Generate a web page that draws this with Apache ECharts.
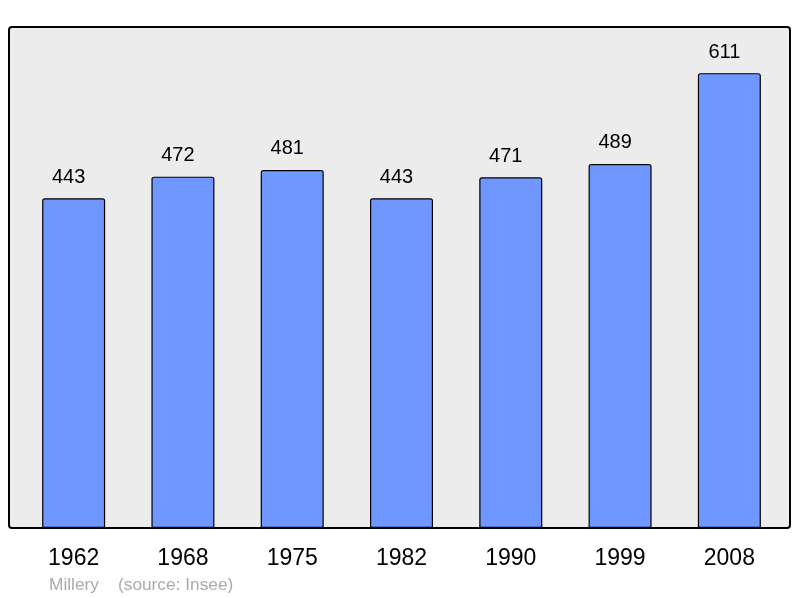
<!DOCTYPE html>
<html><head><meta charset="utf-8">
<script src="https://cdn.jsdelivr.net/npm/echarts@6/dist/echarts.min.js"></script>
<style>html,body{margin:0;padding:0;background:#fff}#c{width:800px;height:598px}</style>
</head><body><div id="c"></div>
<script>
var years = ['1962','1968','1975','1982','1990','1999','2008'];
var population = [443, 472, 481, 443, 471, 489, 611];
var placeName = 'Millery';
var sourceText = '(source: Insee)';

var chart = echarts.init(document.getElementById('c'), null, {renderer:'canvas'});
chart.setOption({
  animation: false,
  backgroundColor: '#ffffff',
  grid: {left: 19, right: 16, top: 27, bottom: 70},
  xAxis: {
    type: 'category', data: years,
    axisLine: {show: false}, axisTick: {show: false},
    axisLabel: {color: '#000', fontFamily: 'Liberation Sans', fontSize: 23, margin: 19}
  },
  yAxis: {type: 'value', min: 0, max: 673, show: false, splitLine: {show: false}},
  graphic: [{
    type: 'rect', z: -10, silent: true,
    shape: {x: 9, y: 27, width: 781, height: 501, r: 3},
    style: {fill: '#ececec', stroke: '#000', lineWidth: 2}
  }, {
    type: 'text', left: 49, top: 577,
    style: {text: placeName, fill: '#aaaaaa', font: '17.3px "Liberation Sans"'}
  }, {
    type: 'text', left: 118, top: 577,
    style: {text: sourceText, fill: '#aaaaaa', font: '17.3px "Liberation Sans"'}
  }],
  series: [{
    type: 'bar', data: population, barWidth: 63,
    itemStyle: {color: '#7097ff', borderColor: '#000', borderWidth: 1.2, borderRadius: [2,2,0,0]},
    label: {show: true, position: 'top', distance: 11, offset: [-5, 0], color: '#000', fontFamily: 'Liberation Sans', fontSize: 20}
  }]
});
</script></body></html>
